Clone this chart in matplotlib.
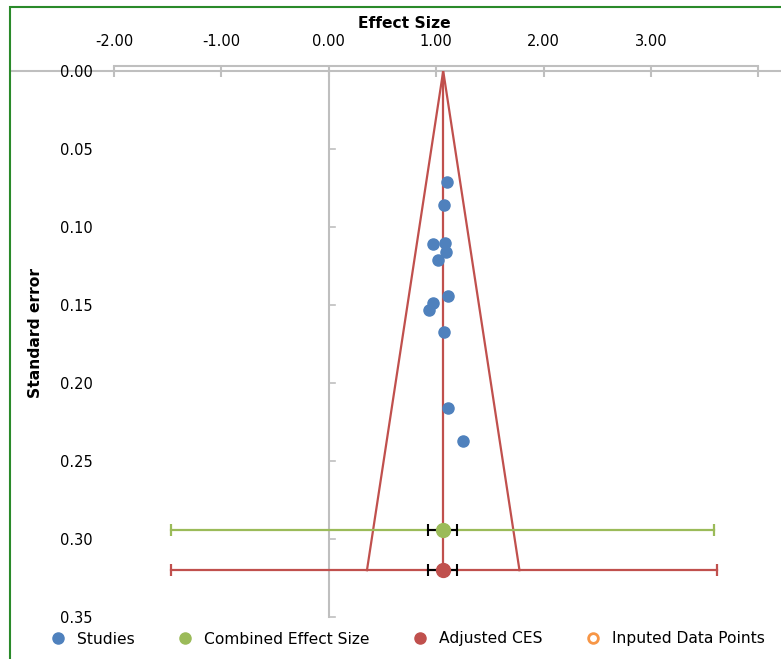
import matplotlib

matplotlib.use("Agg")
import matplotlib.pyplot as plt
from matplotlib.lines import Line2D
from matplotlib.patches import Rectangle

# Study points (effect size, standard error)
studies_es = [1.10, 1.07, 0.97, 1.08, 1.09, 1.02, 1.11, 0.97, 0.93, 1.07, 1.11, 1.25]
studies_se = [0.071, 0.086, 0.111, 0.110, 0.116, 0.121, 0.144, 0.149, 0.153, 0.167, 0.216, 0.237]

# Combined effect size and adjusted CES
ces_es, ces_se = 1.065, 0.294
adj_es, adj_se = 1.065, 0.320
ces_ci = [-1.47, 3.59]
adj_ci = [-1.47, 3.61]
inner_ci = [0.92, 1.19]

# Funnel: apex and base
funnel_x = [0.355, 1.065, 1.775]
funnel_y = [0.320, 0.0, 0.320]

xticks = [-2, -1, 0, 1, 2, 3]
yticks = [0.00, 0.05, 0.10, 0.15, 0.20, 0.25, 0.30, 0.35]

BLUE = "#4f81bd"
GREEN = "#9bbb59"
RED = "#c0504d"
ORANGE = "#f79646"
GRAY = "#bfbfbf"

W, H = 781, 659
fig = plt.figure(figsize=(W / 100, H / 100), dpi=100)
ax = fig.add_axes([12 / W, 1 - 617 / H, 1 - 12 / W, (617 - 71) / H])
ax.set_xlim(-2.95, 4.21)
ax.set_ylim(0.35, 0.0)
for s in ax.spines.values():
    s.set_visible(False)

# green chart border
fig.patches.append(Rectangle((10 / W, -0.1), 1.2, 1 - 7 / H + 0.1, transform=fig.transFigure,
                             fill=False, edgecolor="#2a8a2a", linewidth=1.5))

# gridline at se = 0 and the effect-size axis
ax.plot([-2.95, 4.21], [0, 0], color=GRAY, lw=1.5, clip_on=False, zorder=1)
ax.plot([-2, 4], [-0.0032, -0.0032], color=GRAY, lw=1.5, clip_on=False, zorder=1)
ax.vlines(xticks + [4], -0.0032, 0.0038, color=GRAY, lw=1.5, clip_on=False, zorder=1)

# vertical axis at zero
ax.plot([0, 0], [0, 0.35], color=GRAY, lw=1.5, clip_on=False, zorder=1)
for t in yticks[1:]:
    ax.plot([0, 0.06], [t, t], color=GRAY, lw=1.2, clip_on=False, zorder=1)

ax.xaxis.tick_top()
ax.set_xticks(xticks)
ax.set_xticklabels([f"{v:.2f}" for v in xticks])
ax.set_yticks(yticks)
ax.set_yticklabels([f"{v:.2f}" for v in yticks])
ax.tick_params(axis="x", length=0, pad=16, labelsize=10.5)
ax.tick_params(axis="y", length=0, pad=-58, labelsize=10.5)

# funnel
ax.plot(funnel_x, funnel_y, color=RED, lw=1.6, zorder=2)
ax.plot([adj_es, adj_es], [0, adj_se], color=RED, lw=1.6, zorder=2)

# confidence lines
cap = dict(marker="|", markersize=9, markeredgewidth=1.6)
ax.plot(ces_ci, [ces_se, ces_se], color=GREEN, lw=1.6, zorder=2)
ax.plot(ces_ci, [ces_se, ces_se], color=GREEN, linestyle="none", **cap)
ax.plot(adj_ci, [adj_se, adj_se], color=RED, lw=1.6, zorder=2)
ax.plot(adj_ci, [adj_se, adj_se], color=RED, linestyle="none", **cap)
for yy in (ces_se, adj_se):
    ax.plot(inner_ci, [yy, yy], color="black", lw=1.5, zorder=3)
    ax.plot(inner_ci, [yy, yy], color="black", linestyle="none", marker="|",
            markersize=8, markeredgewidth=1.5, zorder=3)

ax.plot(studies_es, studies_se, "o", color=BLUE, markersize=8, zorder=4)
ax.plot([ces_es], [ces_se], "o", color=GREEN, markersize=10, zorder=5)
ax.plot([adj_es], [adj_se], "o", color=RED, markersize=10, zorder=5)

fig.text(404 / W, 1 - 24 / H, "Effect Size", ha="center", va="center",
         fontsize=11.2, fontweight="bold")
fig.text(35 / W, 1 - 333 / H, "Standard error", ha="center", va="center",
         rotation=90, fontsize=11.2, fontweight="bold")

handles = [
    Line2D([], [], marker="o", color=BLUE, linestyle="none", markersize=8),
    Line2D([], [], marker="o", color=GREEN, linestyle="none", markersize=8),
    Line2D([], [], marker="o", color=RED, linestyle="none", markersize=8),
    Line2D([], [], marker="o", markerfacecolor="white", markeredgecolor=ORANGE,
           markeredgewidth=2, linestyle="none", markersize=7),
]
labels = ["Studies", "Combined Effect Size", "Adjusted CES", "Inputed Data Points"]
fig.legend(handles, labels, loc="center", bbox_to_anchor=(407 / W, 1 - 639 / H), ncol=4,
           frameon=False, fontsize=11.2, handletextpad=0.62, columnspacing=2.65,
           handlelength=1.2)

fig.savefig("out.png", dpi=100)
